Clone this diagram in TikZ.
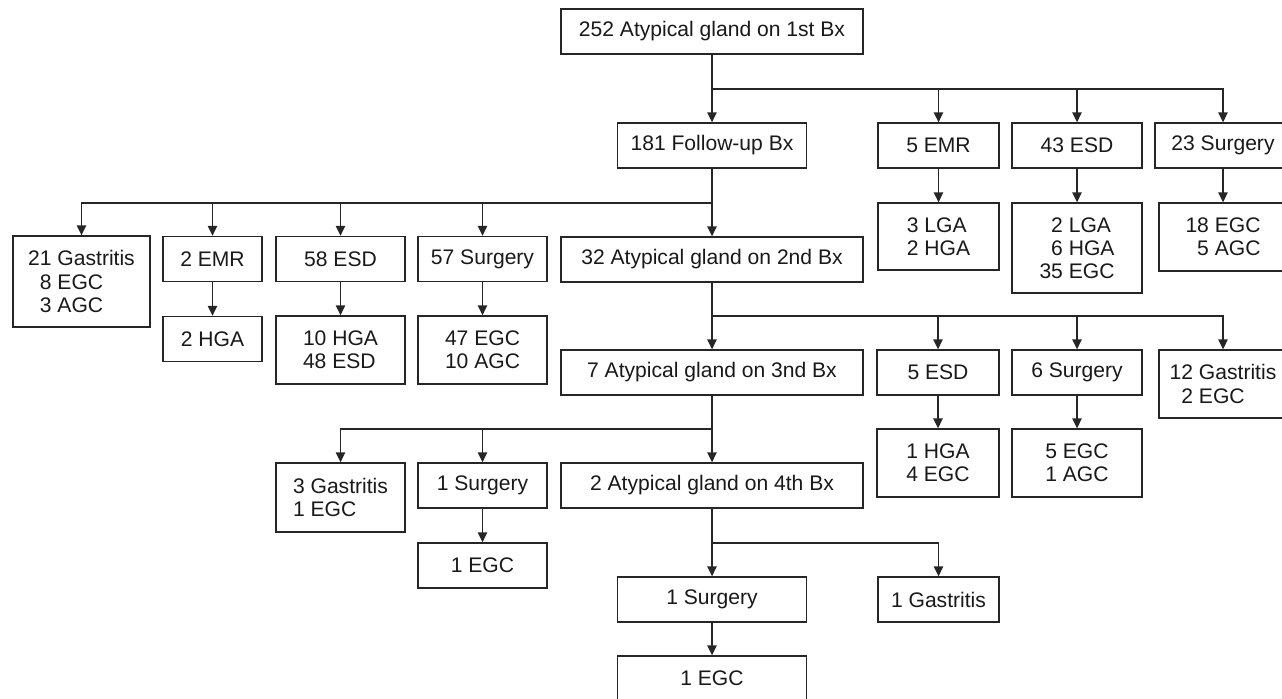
\documentclass[tikz,border=0pt]{standalone}
\usepackage{fontspec}
\setmainfont{Liberation Sans}
\usetikzlibrary{arrows.meta}
\newcommand{\dpad}{\hphantom{0}}
\begin{document}
\begin{tikzpicture}[
    x=0.02cm, y=-0.02cm,
    every node/.style={draw=black!85, text=black!90, line width=0.8pt, inner sep=0pt, align=left,
        font=\fontsize{12}{13.2}\selectfont},
    oneline/.style={minimum height=0.9cm},
    twoline/.style={minimum height=1.36cm},
    threeline/.style={minimum height=1.8cm},
    link/.style={draw=black!85, line width=0.8pt},
    arr/.style={link, -{Triangle[width=0.19cm,length=0.2cm]}}
]
\useasboundingbox (0,0) rectangle (1282,698);
\clip (0,0) rectangle (1282,698);

\node[oneline, minimum width=6.04cm] (root) at (712,31.5) {252 Atypical gland on 1st Bx};
\node[oneline, minimum width=3.78cm] (fu) at (712,145.5) {181 Follow-up Bx};
\node[oneline, minimum width=2.42cm] (emrA) at (938.5,145.5) {5 EMR};
\node[oneline, minimum width=2.6cm] (esdA) at (1077,145.5) {43 ESD};
\node[oneline, minimum width=2.72cm] (surgA) at (1223,145.5) {23 Surgery};
\node[twoline, minimum width=2.42cm, minimum height=1.34cm] (emrAres) at (938.5,236.5) {3 LGA\\2 HGA};
\node[threeline, minimum width=2.6cm] (esdAres) at (1077,248) {\dpad2 LGA\\\dpad6 HGA\\35 EGC};
\node[twoline, minimum width=2.56cm] (surgAres) at (1223,237) {18 EGC\\\dpad5 AGC};

\node[threeline, minimum width=2.74cm, minimum height=1.82cm] (gastB) at (81.5,281.5) {21 Gastritis\\\dpad8 EGC\\\dpad3 AGC};
\node[oneline, minimum width=1.98cm] (emrB) at (212.5,259) {2 EMR};
\node[oneline, minimum width=2.58cm] (esdB) at (340.5,259) {58 ESD};
\node[oneline, minimum width=2.58cm] (surgB) at (482.5,259) {57 Surgery};
\node[oneline, minimum width=6.04cm] (bx2) at (712,259.5) {32 Atypical gland on 2nd Bx};
\node[oneline, minimum width=1.98cm] (emrBres) at (212.5,339) {2 HGA};
\node[twoline, minimum width=2.58cm] (esdBres) at (340.5,350) {10 HGA\\48 ESD};
\node[twoline, minimum width=2.58cm] (surgBres) at (482.5,350) {47 EGC\\10 AGC};

\node[oneline, minimum width=6.04cm] (bx3) at (712,372.5) {7 Atypical gland on 3nd Bx};
\node[oneline, minimum width=2.44cm] (esdC) at (938,372.5) {5 ESD};
\node[oneline, minimum width=2.6cm] (surgC) at (1077,372.5) {6 Surgery};
\node[twoline, minimum width=2.56cm] (gastC) at (1223,384) {12 Gastritis\\\dpad2 EGC};
\node[twoline, minimum width=2.44cm] (esdCres) at (938,463) {1 HGA\\4 EGC};
\node[twoline, minimum width=2.6cm] (surgCres) at (1077,463) {5 EGC\\1 AGC};

\node[twoline, minimum width=2.58cm, minimum height=1.38cm] (gastD) at (340.5,497.5) {3 Gastritis\\1 EGC};
\node[oneline, minimum width=2.58cm] (surgD) at (482.5,485.5) {1 Surgery};
\node[oneline, minimum width=6.04cm] (bx4) at (712,485.5) {2 Atypical gland on 4th Bx};
\node[oneline, minimum width=2.58cm] (surgDres) at (482.5,565.5) {1 EGC};

\node[oneline, minimum width=3.78cm] (surgE) at (712,599.5) {1 Surgery};
\node[oneline, minimum width=2.42cm] (gastE) at (938.5,599.5) {1 Gastritis};
\node[oneline, minimum width=3.78cm] (surgEres) at (712,678.5) {1 EGC};

\coordinate (bus1) at (712,89);
\coordinate (bus2) at (712,203);
\coordinate (bus3) at (712,316);
\coordinate (bus4) at (712,429);
\coordinate (bus5) at (712,543);

\draw[link] (root) -- (bus1);
\draw[arr] (bus1) -- (fu);
\foreach \n in {emrA,esdA,surgA}
    \draw[arr] (bus1) -| (\n);
\draw[arr] (emrA) -- (emrAres);
\draw[arr] (esdA) -- (esdAres);
\draw[arr] (surgA) -- (surgAres);

\draw[link] (fu) -- (bus2);
\draw[arr] (bus2) -- (bx2);
\foreach \n in {gastB,emrB,esdB,surgB}
    \draw[arr] (bus2) -| (\n);
\draw[arr] (emrB) -- (emrBres);
\draw[arr] (esdB) -- (esdBres);
\draw[arr] (surgB) -- (surgBres);

\draw[link] (bx2) -- (bus3);
\draw[arr] (bus3) -- (bx3);
\foreach \n in {esdC,surgC,gastC}
    \draw[arr] (bus3) -| (\n);
\draw[arr] (esdC) -- (esdCres);
\draw[arr] (surgC) -- (surgCres);

\draw[link] (bx3) -- (bus4);
\draw[arr] (bus4) -- (bx4);
\foreach \n in {gastD,surgD}
    \draw[arr] (bus4) -| (\n);
\draw[arr] (surgD) -- (surgDres);

\draw[link] (bx4) -- (bus5);
\draw[arr] (bus5) -- (surgE);
\draw[arr] (bus5) -| (gastE);
\draw[arr] (surgE) -- (surgEres);
\end{tikzpicture}
\end{document}
